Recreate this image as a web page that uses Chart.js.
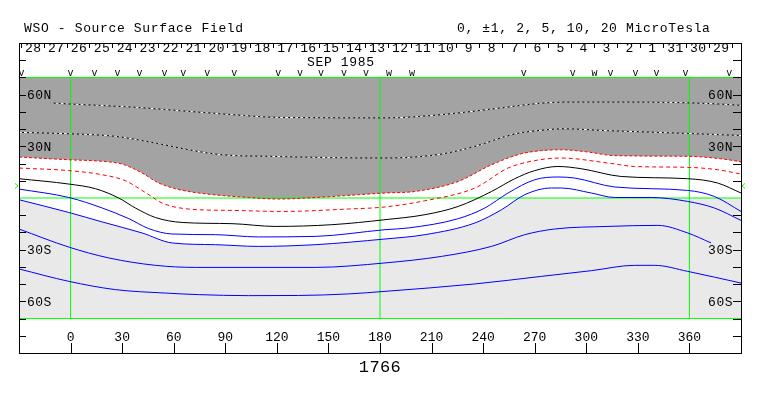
<!DOCTYPE html>
<html><head><meta charset="utf-8">
<script src="https://cdn.jsdelivr.net/npm/chart.js@4"></script>
<style>html,body{margin:0;padding:0;background:#fff;overflow:hidden}canvas{display:block}</style>
</head><body>
<canvas id="c" width="763" height="396"></canvas>
<script>
// ---------- data ----------
const titleLeft = 'WSO - Source Surface Field';
const titleRight = '0, \u00B11, 2, 5, 10, 20 MicroTesla';
const rotationLabel = '1766';
const monthLabel = 'SEP 1985';

const lonTicks = [0, 30, 60, 90, 120, 150, 180, 210, 240, 270, 300, 330, 360];
const latTicks = [-80, -70, -60, -50, -40, -30, -20, -10, 10, 20, 30, 40, 50, 60, 70, 80];
const latLabelValues = [60, 30, -30, -60];
const latLabelTexts = ['60N', '30N', '30S', '60S'];

const dayLabels = ['28','27','26','25','24','23','22','21','20','19','18','17','16','15','14','13',
                   '12','11','10','9','8','7','6','5','4','3','2','1','31','30','29'];
const dayTickLons = [-29.0,-15.7,-2.3,11.0,24.3,37.7,51.0,64.4,77.7,91.1,104.4,117.7,131.1,144.4,157.8,
                     171.1,184.5,197.8,211.1,224.5,237.8,251.2,264.5,277.8,291.2,304.5,317.9,331.2,
                     344.6,357.9,371.2,384.6];

const obsV = [-28.5,0,13.9,27.3,40.1,54.6,65.6,79.5,95.2,120.8,133.5,145.7,159.1,171.9,263.6,292.1,314.1,328.6,340.8,357.7,383.2];
const obsW = [185.2,198.6,304.8];
const b0Lat = 7;

const greenLons = [0, 180, 360];
const greenLats = [-70, 0, 70];

// contours: [longitude, latitude]
const contourM10 = [[-11.6,55.2],[-1,54.6],[35.8,52.8],[68.5,50.3],[93.9,48.4],[120.8,46.8],[182.9,46.5],[215.8,48.4],[254.3,52.8],[271.7,54.9],[287.4,55.7],[324,55.7],[370.5,54.9],[390,53.8]];
const contourM5 = [[-30,38.1],[-1,37.3],[26.1,35.8],[49.4,31.9],[68.7,28.0],[88.1,25.1],[115.1,24.2],[182.9,23.2],[215.8,25.5],[235.2,30.0],[258.4,37.2],[277.7,39.7],[285.5,40.2],[312.4,39.1],[358.8,37.5],[390,36.3]];
const contourM2 = [[-30,23.8],[-1,22.2],[18.4,21.3],[30,19.7],[41.6,14.5],[51.3,8.7],[61,5.4],[74.5,2.9],[103.5,0.3],[120.9,-0.6],[142.3,0.3],[182.9,2.9],[200.3,3.8],[225.5,9.6],[244.9,19.3],[262.3,25.7],[273.9,27.5],[285.5,28.0],[301,26.7],[316.5,24.6],[359,24.2],[386.1,21.7],[390,20.9]];
const contourM1 = [[-30,17.4],[-1,15.9],[18.4,13.5],[31.9,10.0],[45.5,1.9],[53.2,-2.9],[68.7,-6.4],[93.9,-7.2],[122.9,-7.8],[161.6,-6.4],[182.9,-5.2],[206.1,-1.6],[235.2,5.8],[254.5,17.4],[270,21.7],[285.5,23.2],[312.6,20.3],[328.1,18.3],[359,17.8],[376.4,16.4],[390,13.9]];
const contour0 = [[-30,11.2],[-1,8.1],[14.5,5.4],[28,0],[37.7,-5.8],[49.3,-11.3],[64.9,-14.2],[93.9,-14.9],[119,-16.5],[152,-15.5],[182.9,-12.6],[206.1,-9.7],[225.5,-4.9],[244.9,3.8],[258.4,11.2],[270,15.9],[283.5,18.3],[297.1,17.0],[320.3,12.5],[359,11.2],[376.4,8.7],[390,2.9]];
const contourP1 = [[-30,5.2],[-1,0.3],[18.4,-5.8],[33.9,-12.0],[45.5,-17.8],[59.1,-20.9],[84.2,-21.3],[109.3,-22.6],[142.3,-22.3],[182.9,-18.4],[196.4,-17.4],[225.5,-12.0],[241,-5.8],[254.5,2.9],[270,10.6],[283.5,12.2],[293.2,11.6],[316.5,6.4],[359,4.4],[374.5,0.9],[390,-7.8]];
const contourP2 = [[-30,-1],[-1,-8.4],[18.4,-13.9],[41.6,-20.3],[59.1,-26.1],[84.2,-27.1],[109.3,-28.1],[142.3,-27.1],[182.9,-23.8],[206.1,-21.3],[235.2,-14.5],[250.7,-6.8],[264.2,1.9],[279.7,5.8],[285.5,5.8],[302.9,2.9],[316.5,0.3],[337.8,0.3],[359,-2.0],[374.5,-5.8],[390,-13.0]];
const contourP5 = [[-30,-18],[-1,-28.5],[22.2,-34.8],[49.4,-39.1],[72.6,-40.3],[142.3,-40.3],[182.9,-37.7],[215.8,-33.9],[244.9,-28.1],[264.2,-21.3],[281.6,-18.0],[312.6,-16.5],[341.6,-15.9],[359,-20.3],[372.6,-26.1]];
const contourP10 = [[-30,-41.2],[-1,-48.4],[26.1,-53.2],[55.2,-55.2],[74.5,-56.1],[103.5,-56.7],[132.6,-56.6],[161.6,-55.7],[182.9,-54.2],[235.2,-49.9],[273.9,-45.5],[302.9,-42.2],[328.1,-39.1],[339.7,-39.1],[359,-42.6],[390,-49.4]];
// top edge of the light-grey shading
const lightShadeTop = [[-30,-1],[-1,-8.4],[18.4,-13.9],[41.6,-20.3],[59.1,-26.1],[84.2,-27.1],[109.3,-28.1],[142.3,-27.1],[182.9,-23.8],[206.1,-21.3],[235.2,-14.5],[250.7,-6.8],[262,0],[390,0]];

// ---------- chart ----------
const pts = a => a.map(([x, y]) => ({x, y}));
const FONT = '"Liberation Mono", "DejaVu Sans Mono", monospace';
const DARK = '#a3a3a3', LIGHT = '#e9e9e9', GREEN = '#00ff00';

function line(data, color, opts) {
  return Object.assign({
    data: pts(data), showLine: true, pointRadius: 0, borderColor: color, borderWidth: 1,
    fill: false, cubicInterpolationMode: 'monotone', order: 0
  }, opts || {});
}

const datasets = [
  line(contourM2, 'rgba(0,0,0,0)', {fill: {value: 70}, backgroundColor: DARK, order: 20}),
  line(lightShadeTop, 'rgba(0,0,0,0)', {fill: {value: -70}, backgroundColor: LIGHT, order: 20}),
];
greenLons.forEach(l => datasets.push(line([[l, -70], [l, 70]], GREEN, {order: 10, cubicInterpolationMode: 'default', tension: 0})));
greenLats.forEach(l => datasets.push(line([[-30, l], [390, l]], GREEN, {order: 10, cubicInterpolationMode: 'default', tension: 0})));
datasets.push(line(contourM10, '#000000', {order: 2}));
datasets.push(line(contourM10, '#ffffff', {order: 1, borderDash: [3, 2]}));
datasets.push(line(contourM5, '#000000', {order: 2}));
datasets.push(line(contourM5, '#ffffff', {order: 1, borderDash: [3, 2]}));
datasets.push(line(contourM2, '#ff0000', {borderDash: [3, 2]}));
datasets.push(line(contourM1, '#ff0000', {borderDash: [4, 3]}));
datasets.push(line(contour0, '#000000'));
[contourP1, contourP2, contourP5, contourP10].forEach(c => datasets.push(line(c, '#0000ff')));

const decor = {
  id: 'decor',
  afterDraw(chart) {
    const ctx = chart.ctx, xs = chart.scales.x, ys = chart.scales.y, a = chart.chartArea;
    const X = v => xs.getPixelForValue(v), Y = v => ys.getPixelForValue(v);
    const r = v => Math.round(v) + 0.5;
    ctx.save();
    ctx.strokeStyle = '#000'; ctx.lineWidth = 1;
    // frame
    ctx.strokeRect(r(a.left), r(a.top), Math.round(a.right) - Math.round(a.left), Math.round(a.bottom) - Math.round(a.top));
    // latitude ticks
    ctx.beginPath();
    latTicks.forEach(t => {
      const y = r(Y(t));
      ctx.moveTo(a.left, y); ctx.lineTo(a.left + 7, y);
      ctx.moveTo(a.right - 8, y); ctx.lineTo(a.right, y);
    });
    // longitude ticks
    lonTicks.forEach(t => {
      const x = r(X(t));
      ctx.moveTo(x, a.bottom - 10); ctx.lineTo(x, a.bottom);
    });
    // day ticks
    dayTickLons.forEach(t => {
      const x = r(X(t));
      ctx.moveTo(x, a.top + 1); ctx.lineTo(x, a.top + 5);
    });
    ctx.stroke();

    ctx.fillStyle = '#000';
    ctx.textBaseline = 'middle';
    ctx.font = '13px ' + FONT;
    if ('letterSpacing' in ctx) ctx.letterSpacing = '0px';
    ctx.textAlign = 'center';
    lonTicks.forEach(t => ctx.fillText(String(t), X(t), 338));
    // day labels
    if ('letterSpacing' in ctx) ctx.letterSpacing = '0.4px';
    dayLabels.forEach((d, i) => {
      const xm = (X(dayTickLons[i]) + X(dayTickLons[i + 1])) / 2;
      ctx.fillText(d, xm + 1, a.top + 6);
    });
    // lat labels
    if ('letterSpacing' in ctx) ctx.letterSpacing = '0.5px';
    latLabelValues.forEach((v, i) => {
      ctx.textAlign = 'left'; ctx.fillText(latLabelTexts[i], a.left + 8, Y(v) + 1);
      ctx.textAlign = 'right'; ctx.fillText(latLabelTexts[i], a.right - 8, Y(v) + 1);
    });
    // titles
    if ('letterSpacing' in ctx) ctx.letterSpacing = '0.65px';
    ctx.textAlign = 'left';
    ctx.fillText(titleLeft, 24, 29);
    ctx.fillText(titleRight, 457, 29);
    ctx.fillText(monthLabel, 307, 63);
    // rotation number
    ctx.font = '17px ' + FONT;
    if ('letterSpacing' in ctx) ctx.letterSpacing = '0.4px';
    ctx.textAlign = 'center';
    ctx.fillText(rotationLabel, X(180), 367);
    // observation marks
    ctx.font = '10px ' + FONT;
    if ('letterSpacing' in ctx) ctx.letterSpacing = '0px';
    ctx.textBaseline = 'alphabetic';
    obsV.forEach(v => ctx.fillText('v', X(v), Y(70) - 1));
    obsW.forEach(v => ctx.fillText('w', X(v), Y(70) - 1));
    // B0 markers
    ctx.strokeStyle = GREEN;
    ctx.beginPath();
    const yb = Y(b0Lat);
    ctx.moveTo(a.left - 4, yb - 2.5); ctx.lineTo(a.left - 1, yb); ctx.lineTo(a.left - 4, yb + 2.5);
    ctx.moveTo(a.right + 4, yb - 2.5); ctx.lineTo(a.right + 1, yb); ctx.lineTo(a.right + 4, yb + 2.5);
    ctx.stroke();
    ctx.restore();
  }
};

new Chart(document.getElementById('c'), {
  type: 'scatter',
  data: {datasets},
  options: {
    responsive: false, animation: false, events: [],
    layout: {padding: {left: 19, right: 22, top: 43, bottom: 43}},
    scales: {
      x: {type: 'linear', min: -30, max: 390, display: false},
      y: {type: 'linear', min: -90, max: 90, display: false}
    },
    plugins: {legend: {display: false}, tooltip: {enabled: false}, filler: {drawTime: 'beforeDatasetsDraw'}}
  },
  plugins: [decor]
});
</script>
</body></html>
